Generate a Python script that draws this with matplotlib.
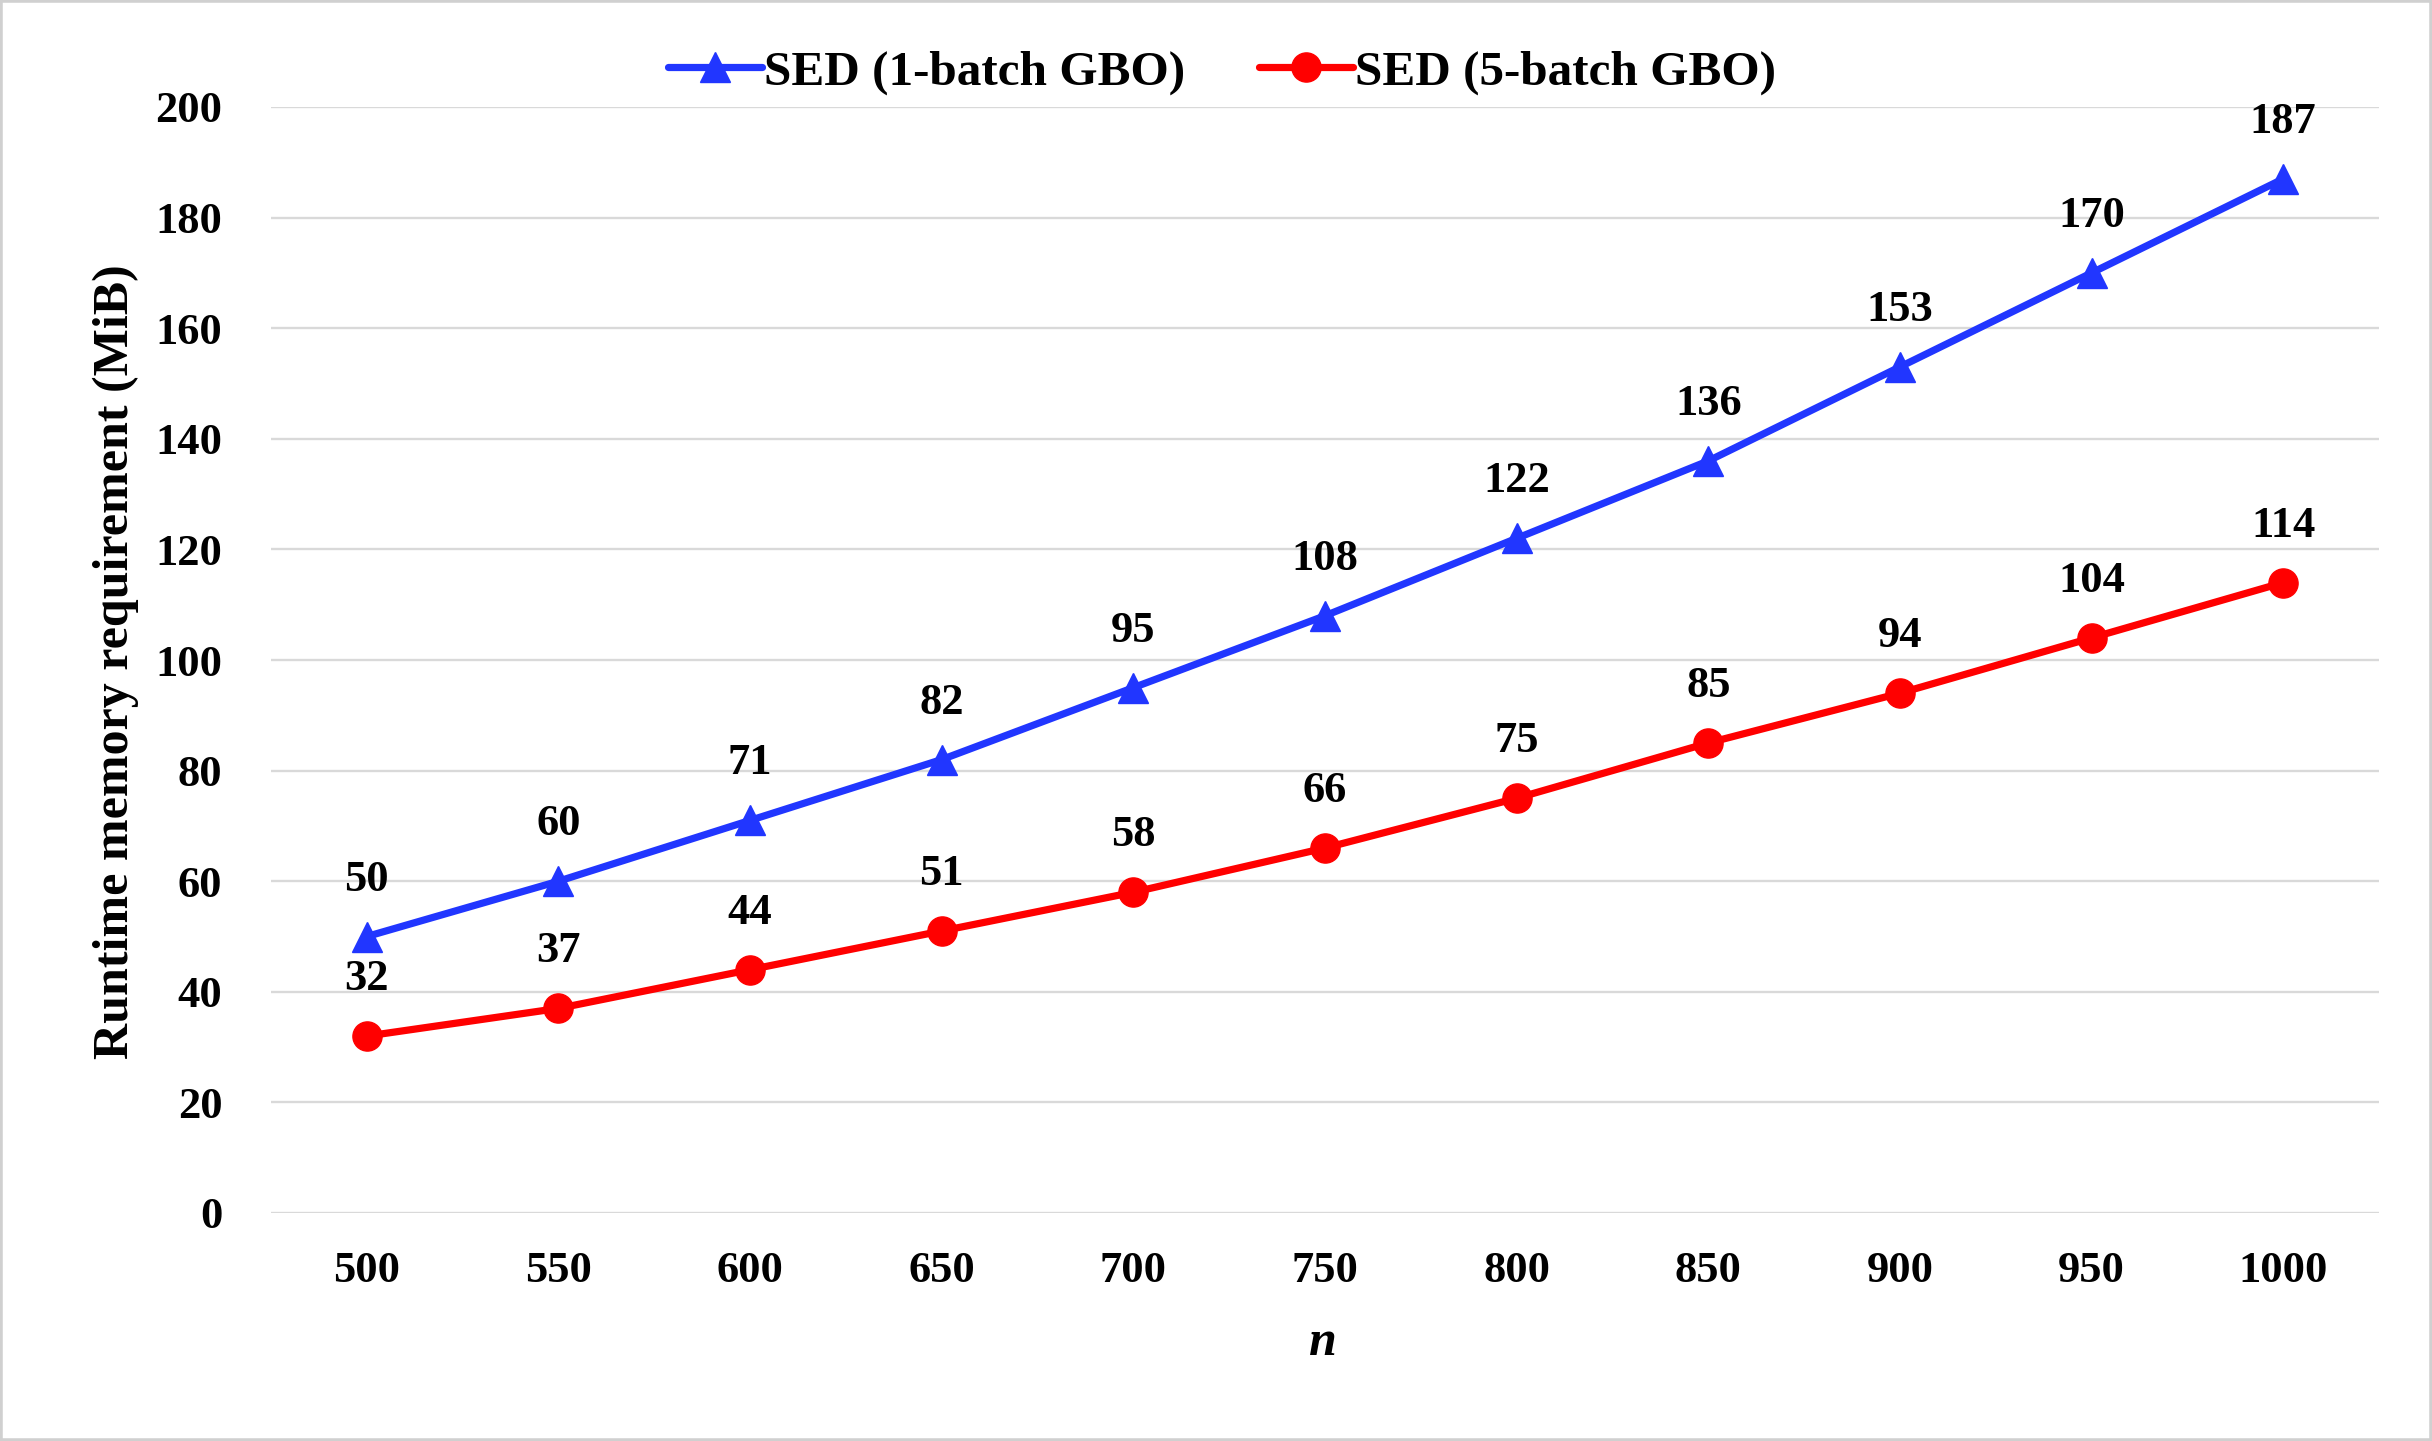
import matplotlib
matplotlib.use("Agg")
import matplotlib.pyplot as plt
from matplotlib.patches import Rectangle

n_values = ["500", "550", "600", "650", "700", "750", "800", "850", "900", "950", "1000"]
sed_1batch = [50, 60, 71, 82, 95, 108, 122, 136, 153, 170, 187]
sed_5batch = [32, 37, 44, 51, 58, 66, 75, 85, 94, 104, 114]
y_ticks = [0, 20, 40, 60, 80, 100, 120, 140, 160, 180, 200]

plt.rcParams['font.family'] = ['Liberation Serif', 'DejaVu Serif']
plt.rcParams['font.weight'] = 'bold'

fig = plt.figure(figsize=(24.32, 14.41), dpi=100)
ax = fig.add_axes([271/2432, 1-1213/1441, (2379-271)/2432, (1213-107)/1441])

x = list(range(len(n_values)))
blue = '#2136FF'
red = '#FF0000'
l1, = ax.plot(x, sed_1batch, color=blue, lw=5.2, marker='^', ms=21, label='SED (1-batch GBO)',
              solid_capstyle='round', zorder=3)
l2, = ax.plot(x, sed_5batch, color=red, lw=5.2, marker='o', ms=21, label='SED (5-batch GBO)',
              solid_capstyle='round', zorder=3)

for xi, v in zip(x, sed_1batch):
    ax.annotate(f"{v}", (xi, v), xytext=(0, 41), textcoords='offset points',
                ha='center', va='center', fontsize=32, fontweight='bold')
for xi, v in zip(x, sed_5batch):
    ax.annotate(f"{v}", (xi, v), xytext=(0, 41), textcoords='offset points',
                ha='center', va='center', fontsize=32, fontweight='bold')

ax.set_xlim(-0.5, len(n_values) - 0.5)
ax.set_ylim(0, 200)
ax.set_yticks(y_ticks)
ax.set_xticks(x)
ax.set_xticklabels(n_values)
ax.tick_params(axis='both', length=0, labelsize=32)
ax.tick_params(axis='y', pad=35)
ax.tick_params(axis='x', pad=27)
for s in ax.spines.values():
    s.set_visible(False)
ax.yaxis.grid(True, color='#D9D9D9', lw=1.7)
ax.set_axisbelow(True)

fig.text(116/2432, 1-662/1441, 'Runtime memory requirement (MiB)', rotation=90,
         ha='center', va='center', fontsize=36, fontweight='bold')
fig.text(1323/2432, 1-1343/1441, 'n', ha='center', va='center', fontsize=36,
         fontweight='bold', fontstyle='italic')

leg = fig.legend(handles=[l1, l2], loc='center', bbox_to_anchor=(0.5025, 0.950), ncol=2,
                 frameon=False, fontsize=35.5, handlelength=1.9, handletextpad=0.05,
                 columnspacing=1.5, borderaxespad=0)
for t in leg.get_texts():
    t.set_fontweight('bold')

fig.patches.append(Rectangle((0, 0), 1, 1, transform=fig.transFigure, fill=False,
                             edgecolor='#D0D0D0', lw=4, zorder=10))

fig.savefig('out.png', dpi=100)
